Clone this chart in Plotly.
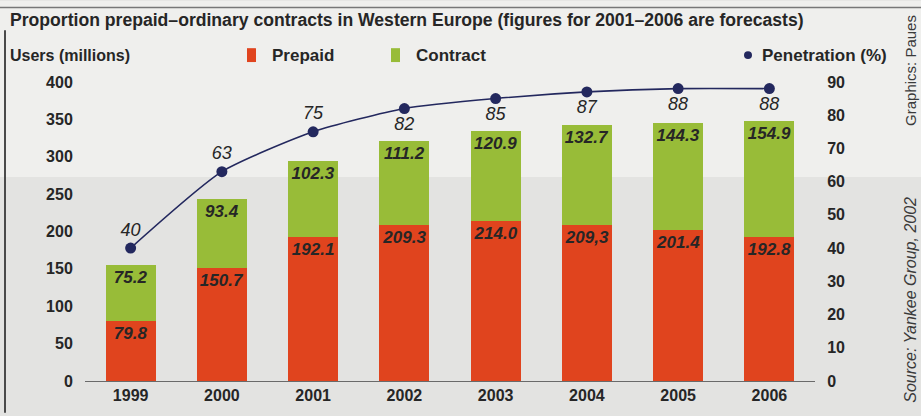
import plotly.graph_objects as go

years = ["1999", "2000", "2001", "2002", "2003", "2004", "2005", "2006"]
prepaid = [79.8, 150.7, 192.1, 209.3, 214.0, 209.3, 201.4, 192.8]
prepaid_labels = ["79.8", "150.7", "192.1", "209.3", "214.0", "209,3", "201.4", "192.8"]
contract = [75.2, 93.4, 102.3, 111.2, 120.9, 132.7, 144.3, 154.9]
contract_labels = ["75.2", "93.4", "102.3", "111.2", "120.9", "132.7", "144.3", "154.9"]
penetration = [40, 63, 75, 82, 85, 87, 88, 88]
left_ticks = [0, 50, 100, 150, 200, 250, 300, 350, 400]
right_ticks = [0, 10, 20, 30, 40, 50, 60, 70, 80, 90]

FONT = "Liberation Sans, Arial, sans-serif"
RED = "#e0441e"
GREEN = "#98bc38"
NAVY = "#23285e"
TXT = "#262626"

LMAX = 420
RMAX = LMAX * 90 / 400
pen_pos = ["top center"] * 3 + ["bottom center"] * 5

fig = go.Figure()
fig.add_trace(go.Bar(
    x=years, y=prepaid, name="Prepaid", marker=dict(color=RED, line=dict(width=0)),
    text=prepaid_labels, textposition="inside", insidetextanchor="end",
    textfont=dict(family=FONT, size=17, color=TXT, style="italic", weight="bold"),
    constraintext="none", textangle=0, width=0.55,
))
fig.add_trace(go.Bar(
    x=years, y=contract, name="Contract", marker=dict(color=GREEN, line=dict(width=0)),
    text=contract_labels, textposition="inside", insidetextanchor="end",
    textfont=dict(family=FONT, size=17, color=TXT, style="italic", weight="bold"),
    constraintext="none", textangle=0, width=0.55,
))
fig.add_trace(go.Scatter(
    x=years, y=penetration, yaxis="y2", mode="lines+markers+text",
    line=dict(color=NAVY, width=1.6, shape="spline", smoothing=0.6),
    marker=dict(color=NAVY, size=11),
    text=[str(v) for v in penetration], textposition=pen_pos,
    textfont=dict(family=FONT, size=18, color=TXT, style="italic"),
    cliponaxis=False, name="Penetration (%)",
))

tickfont = dict(family=FONT, size=16, color=TXT, weight="bold")
fig.update_layout(
    width=921, height=416,
    margin=dict(l=85, r=106, t=67, b=32),
    paper_bgcolor="#e3e3e1", plot_bgcolor="rgba(0,0,0,0)",
    barmode="stack", bargap=0.45, showlegend=False,
    font=dict(family=FONT, color=TXT),
    xaxis=dict(showline=True, linecolor="#6a6a6a", linewidth=1, ticks="",
               tickfont=tickfont, showgrid=False),
    yaxis=dict(range=[0, LMAX], tickvals=left_ticks, showgrid=False, zeroline=False,
               ticks="outside", ticklen=8, tickcolor="rgba(0,0,0,0)", tickfont=tickfont),
    yaxis2=dict(range=[0, RMAX], tickvals=right_ticks, overlaying="y", side="right",
                showgrid=False, zeroline=False,
                ticks="outside", ticklen=8, tickcolor="rgba(0,0,0,0)", tickfont=tickfont),
)

def px(x):
    return (x - 85) / 730

def py(y):
    return (416 - 32 - y) / 317

ann = [
    ("Proportion prepaid–ordinary contracts in Western Europe (figures for 2001–2006 are forecasts)", 8, 20, 17.6),
    ("Users (millions)", 8, 55, 16),
    ("Prepaid", 270, 55, 17),
    ("Contract", 414, 55, 17),
    ("Penetration (%)", 760, 55, 17),
]
annotations = []
for text, x, y, size in ann:
    annotations.append(dict(text=text, xref="paper", yref="paper", x=px(x), y=py(y),
                            xanchor="left", yanchor="middle", showarrow=False,
                            font=dict(family=FONT, size=size, color=TXT, weight="bold")))
annotations.append(dict(text="Graphics: Paues", xref="paper", yref="paper",
                        x=px(911), y=py(70), textangle=-90,
                        xanchor="center", yanchor="middle", showarrow=False,
                        font=dict(family=FONT, size=15, color="#3a3a3a")))
annotations.append(dict(text="Source: Yankee Group, 2002", xref="paper", yref="paper",
                        x=px(911), y=py(302), textangle=-90,
                        xanchor="center", yanchor="middle", showarrow=False,
                        font=dict(family=FONT, size=16, color="#3a3a3a", style="italic")))
fig.update_layout(annotations=annotations)

shapes = [
    # lighter paper tone in the upper part
    dict(type="rect", xref="paper", yref="paper", x0=px(0), x1=px(921), y0=py(178), y1=py(0),
         fillcolor="#efefed", line=dict(width=0), layer="below"),
    # legend swatches
    dict(type="rect", xref="paper", yref="paper", x0=px(247), x1=px(256), y0=py(62), y1=py(48),
         fillcolor=RED, line=dict(width=0)),
    dict(type="rect", xref="paper", yref="paper", x0=px(391), x1=px(400), y0=py(62), y1=py(48),
         fillcolor=GREEN, line=dict(width=0)),
    dict(type="circle", xref="paper", yref="paper", x0=px(744), x1=px(752), y0=py(59), y1=py(51),
         fillcolor=NAVY, line=dict(width=0)),
    # frame lines
    dict(type="line", xref="paper", yref="paper", x0=px(5), x1=px(5), y0=py(30), y1=py(416),
         line=dict(color="#4a4a4a", width=2)),
    dict(type="line", xref="paper", yref="paper", x0=px(0), x1=px(921), y0=py(7), y1=py(7),
         line=dict(color="#777777", width=1.5)),
]
fig.update_layout(shapes=shapes)

fig.write_html("out.html")
